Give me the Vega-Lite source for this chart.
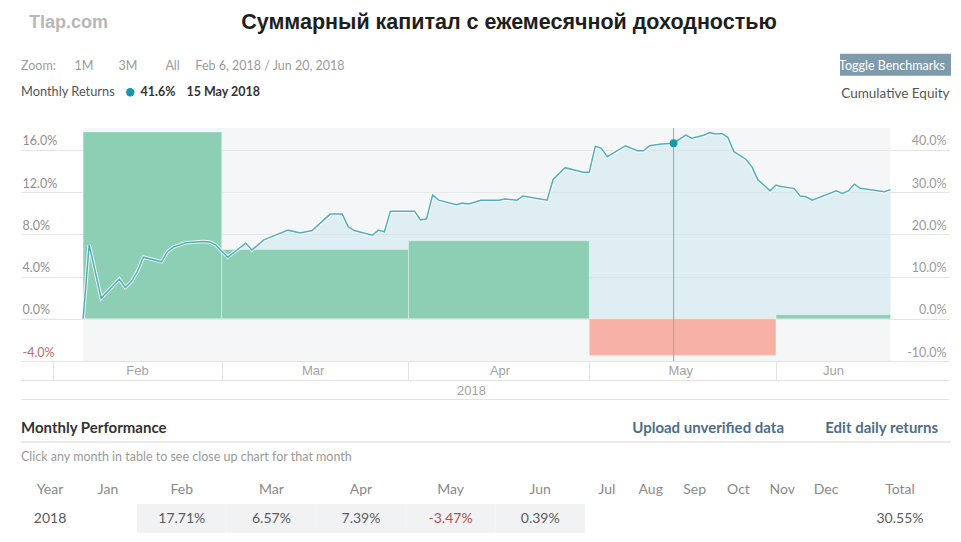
{
  "$schema": "https://vega.github.io/schema/vega-lite/v6.json",
  "padding": {"left": 20, "top": 0, "right": 5, "bottom": 0},
  "background": "#ffffff",
  "config": {"view": {"stroke": null}, "font": "Lato"},
  "bounds": "flush",
  "spacing": 0,
  "datasets": {
    "header": [
      {"kind": "brand", "side": "left", "line": "title", "text": "Tlap.com"},
      {"kind": "title", "side": "center", "line": "title", "text": "Суммарный капитал с ежемесячной доходностью"},
      {"kind": "zoom", "side": "left", "line": "zoom", "text": "Zoom:\u2002\u2002\u20021M\u2003\u2003\u20023M\u2003\u2003\u2003All\u2003\u2002Feb 6, 2018 / Jun 20, 2018"},
      {"kind": "button", "side": "right", "line": "zoom", "text": "Toggle Benchmarks"}
    ],
    "equity": [
      {"date": "2018-02-06", "eq": 0.000},
      {"date": "2018-02-07", "eq": 0.175},
      {"date": "2018-02-09", "eq": 0.049},
      {"date": "2018-02-12", "eq": 0.094},
      {"date": "2018-02-13", "eq": 0.074},
      {"date": "2018-02-14", "eq": 0.088},
      {"date": "2018-02-15", "eq": 0.112},
      {"date": "2018-02-16", "eq": 0.146},
      {"date": "2018-02-19", "eq": 0.135},
      {"date": "2018-02-20", "eq": 0.159},
      {"date": "2018-02-21", "eq": 0.170},
      {"date": "2018-02-22", "eq": 0.175},
      {"date": "2018-02-23", "eq": 0.180},
      {"date": "2018-02-26", "eq": 0.183},
      {"date": "2018-02-27", "eq": 0.182},
      {"date": "2018-02-28", "eq": 0.175},
      {"date": "2018-03-02", "eq": 0.146},
      {"date": "2018-03-05", "eq": 0.179},
      {"date": "2018-03-06", "eq": 0.163},
      {"date": "2018-03-08", "eq": 0.187},
      {"date": "2018-03-09", "eq": 0.193},
      {"date": "2018-03-12", "eq": 0.210},
      {"date": "2018-03-14", "eq": 0.203},
      {"date": "2018-03-16", "eq": 0.209},
      {"date": "2018-03-19", "eq": 0.248},
      {"date": "2018-03-21", "eq": 0.248},
      {"date": "2018-03-22", "eq": 0.218},
      {"date": "2018-03-23", "eq": 0.209},
      {"date": "2018-03-26", "eq": 0.198},
      {"date": "2018-03-27", "eq": 0.210},
      {"date": "2018-03-28", "eq": 0.206},
      {"date": "2018-03-29", "eq": 0.255},
      {"date": "2018-04-02", "eq": 0.255},
      {"date": "2018-04-03", "eq": 0.234},
      {"date": "2018-04-04", "eq": 0.237},
      {"date": "2018-04-05", "eq": 0.293},
      {"date": "2018-04-06", "eq": 0.281},
      {"date": "2018-04-09", "eq": 0.270},
      {"date": "2018-04-10", "eq": 0.274},
      {"date": "2018-04-11", "eq": 0.272},
      {"date": "2018-04-13", "eq": 0.281},
      {"date": "2018-04-16", "eq": 0.281},
      {"date": "2018-04-17", "eq": 0.284},
      {"date": "2018-04-19", "eq": 0.281},
      {"date": "2018-04-20", "eq": 0.291},
      {"date": "2018-04-24", "eq": 0.281},
      {"date": "2018-04-25", "eq": 0.330},
      {"date": "2018-04-27", "eq": 0.358},
      {"date": "2018-04-30", "eq": 0.347},
      {"date": "2018-05-01", "eq": 0.347},
      {"date": "2018-05-02", "eq": 0.409},
      {"date": "2018-05-03", "eq": 0.404},
      {"date": "2018-05-04", "eq": 0.384},
      {"date": "2018-05-07", "eq": 0.410},
      {"date": "2018-05-09", "eq": 0.398},
      {"date": "2018-05-10", "eq": 0.398},
      {"date": "2018-05-11", "eq": 0.410},
      {"date": "2018-05-13", "eq": 0.414},
      {"date": "2018-05-15", "eq": 0.416},
      {"date": "2018-05-17", "eq": 0.435},
      {"date": "2018-05-18", "eq": 0.428},
      {"date": "2018-05-20", "eq": 0.435},
      {"date": "2018-05-21", "eq": 0.441},
      {"date": "2018-05-22", "eq": 0.438},
      {"date": "2018-05-23", "eq": 0.439},
      {"date": "2018-05-24", "eq": 0.430},
      {"date": "2018-05-25", "eq": 0.396},
      {"date": "2018-05-27", "eq": 0.378},
      {"date": "2018-05-28", "eq": 0.360},
      {"date": "2018-05-29", "eq": 0.329},
      {"date": "2018-05-30", "eq": 0.317},
      {"date": "2018-05-31", "eq": 0.303},
      {"date": "2018-06-01", "eq": 0.317},
      {"date": "2018-06-02", "eq": 0.313},
      {"date": "2018-06-04", "eq": 0.309},
      {"date": "2018-06-05", "eq": 0.291},
      {"date": "2018-06-06", "eq": 0.289},
      {"date": "2018-06-07", "eq": 0.281},
      {"date": "2018-06-11", "eq": 0.303},
      {"date": "2018-06-12", "eq": 0.297},
      {"date": "2018-06-13", "eq": 0.303},
      {"date": "2018-06-14", "eq": 0.319},
      {"date": "2018-06-15", "eq": 0.309},
      {"date": "2018-06-19", "eq": 0.301},
      {"date": "2018-06-20", "eq": 0.306}
    ],
    "monthly": [
      {"month": "Feb", "start": "2018-02-06", "end": "2018-03-01", "ret": 0.1771},
      {"month": "Mar", "start": "2018-03-01", "end": "2018-04-01", "ret": 0.0657},
      {"month": "Apr", "start": "2018-04-01", "end": "2018-05-01", "ret": 0.0739},
      {"month": "May", "start": "2018-05-01", "end": "2018-06-01", "ret": -0.0347},
      {"month": "Jun", "start": "2018-06-01", "end": "2018-06-20", "ret": 0.0039}
    ],
    "highlight": [
      {"date": "2018-05-15", "eq": 0.416, "label": "41.6%"}
    ],
    "perf": [
      {"kind": "heading", "side": "left", "line": "head", "text": "Monthly Performance"},
      {"kind": "link", "side": "right", "line": "head", "text": "Upload unverified data\u2003\u2003\u2003\u2002Edit daily returns"},
      {"kind": "note", "side": "left", "line": "note", "text": "Click any month in table to see close up chart for that month"},
      {"kind": "rule", "side": "left", "line": "note", "text": ""}
    ],
    "table": [
      {"part": "a", "col": "Year", "row": "head", "text": "Year", "neg": false},
      {"part": "a", "col": "Jan", "row": "head", "text": "Jan", "neg": false},
      {"part": "b", "col": "Feb", "row": "head", "text": "Feb", "neg": false},
      {"part": "b", "col": "Mar", "row": "head", "text": "Mar", "neg": false},
      {"part": "b", "col": "Apr", "row": "head", "text": "Apr", "neg": false},
      {"part": "b", "col": "May", "row": "head", "text": "May", "neg": false},
      {"part": "b", "col": "Jun", "row": "head", "text": "Jun", "neg": false},
      {"part": "c", "col": "Jul", "row": "head", "text": "Jul", "neg": false},
      {"part": "c", "col": "Aug", "row": "head", "text": "Aug", "neg": false},
      {"part": "c", "col": "Sep", "row": "head", "text": "Sep", "neg": false},
      {"part": "c", "col": "Oct", "row": "head", "text": "Oct", "neg": false},
      {"part": "c", "col": "Nov", "row": "head", "text": "Nov", "neg": false},
      {"part": "c", "col": "Dec", "row": "head", "text": "Dec", "neg": false},
      {"part": "d", "col": "Total", "row": "head", "text": "Total", "neg": false},
      {"part": "a", "col": "Year", "row": "data", "text": "2018", "neg": false},
      {"part": "b", "col": "Feb", "row": "data", "text": "17.71%", "neg": false},
      {"part": "b", "col": "Mar", "row": "data", "text": "6.57%", "neg": false},
      {"part": "b", "col": "Apr", "row": "data", "text": "7.39%", "neg": false},
      {"part": "b", "col": "May", "row": "data", "text": "-3.47%", "neg": true},
      {"part": "b", "col": "Jun", "row": "data", "text": "0.39%", "neg": false},
      {"part": "d", "col": "Total", "row": "data", "text": "30.55%", "neg": false}
    ]
  },
  "vconcat": [
    {
      "width": 928,
      "height": 128,
      "data": {"name": "header"},
      "encoding": {
        "x": {"field": "side", "type": "nominal", "scale": {"type": "point", "domain": ["left", "center", "right"], "padding": 0}, "axis": null},
        "y": {"field": "line", "type": "nominal", "scale": {"type": "point", "domain": ["title", "zoom"], "padding": 1.141, "align": 0.2697}, "axis": null}
      },
      "layer": [
        {
          "transform": [{"filter": "datum.kind == 'brand'"}],
          "mark": {"type": "text", "align": "left", "baseline": "middle", "dx": 8, "font": "Liberation Sans", "fontSize": 18, "fontWeight": "bold", "color": "#b8b8b8"},
          "encoding": {"text": {"field": "text"}}
        },
        {
          "transform": [{"filter": "datum.kind == 'title'"}],
          "mark": {"type": "text", "align": "center", "baseline": "middle", "dx": 24, "font": "Liberation Sans", "fontSize": 21.5, "fontWeight": "bold", "color": "#1e1e1e"},
          "encoding": {"text": {"field": "text"}}
        },
        {
          "transform": [{"filter": "datum.kind == 'zoom'"}],
          "mark": {"type": "text", "align": "left", "baseline": "middle", "font": "Lato", "fontSize": 12.5, "color": "#9b9b9b"},
          "encoding": {"text": {"field": "text"}}
        },
        {
          "transform": [{"filter": "datum.kind == 'button'"}],
          "mark": {"type": "point", "shape": "M-10.9,-1.2H0.2V1H-10.9Z", "size": 400, "filled": true, "color": "#7f9bab", "opacity": 1}
        },
        {
          "transform": [{"filter": "datum.kind == 'button'"}],
          "mark": {"type": "text", "align": "right", "baseline": "middle", "dx": -4, "font": "Lato", "fontSize": 12.5, "color": "#ffffff"},
          "encoding": {"text": {"field": "text"}}
        }
      ]
    },
    {
      "width": 928,
      "height": 233,
      "resolve": {"scale": {"y": "independent"}, "axis": {"x": "independent", "y": "independent"}},
      "layer": [
        {
          "data": {"name": "equity"},
          "mark": {"type": "rect", "color": "#e8ebf0", "opacity": 0.45},
          "encoding": {
            "x": {
              "aggregate": "min", "field": "date", "type": "temporal",
              "scale": {"type": "utc", "domain": [{"year": 2018, "month": 1, "date": 26, "hours": 16, "minutes": 32, "utc": true}, {"year": 2018, "month": 6, "date": 29, "hours": 17, "utc": true}]},
              "axis": {
                "orient": "bottom",
                "values": [
                  {"year": 2018, "month": 2, "date": 1, "utc": true},
                  {"year": 2018, "month": 3, "date": 1, "utc": true},
                  {"year": 2018, "month": 4, "date": 1, "utc": true},
                  {"year": 2018, "month": 5, "date": 1, "utc": true},
                  {"year": 2018, "month": 6, "date": 1, "utc": true}
                ],
                "domain": true, "domainColor": "#e3e3e3", "domainWidth": 1,
                "ticks": true, "tickSize": 19, "tickColor": "#e3e3e3", "tickWidth": 1,
                "labels": true, "labelExpr": "utcFormat(datum.value, '%b')",
                "labelFont": "Liberation Sans", "labelFontSize": 13, "labelColor": "#a3a3a3",
                "labelPadding": -10, "labelBaseline": "middle", "labelAlign": "center",
                "labelOffset": {"condition": [{"test": "utcmonth(datum.value) == 1", "value": 84}, {"test": "utcmonth(datum.value) == 5", "value": 57}], "value": 91},
                "labelFlush": false, "labelOverlap": false, "labelBound": false,
                "grid": false, "title": null
              }
            },
            "x2": {"aggregate": "max", "field": "date"}
          }
        },
        {
          "data": {"name": "equity"},
          "mark": {"type": "area", "color": "#c5e4ee", "opacity": 0.45},
          "encoding": {
            "x": {
              "field": "date", "type": "temporal",
              "scale": {"type": "utc"},
              "axis": {
                "orient": "bottom", "offset": 19,
                "domain": true, "domainColor": "#e3e3e3", "domainWidth": 1,
                "ticks": false, "labels": false, "grid": false,
                "title": "2018", "titleFont": "Liberation Sans", "titleFontSize": 13, "titleFontWeight": "normal", "titleColor": "#a3a3a3",
                "titleX": 450, "titleY": 10, "titleAlign": "center", "titleBaseline": "middle"
              }
            },
            "y": {"field": "eq", "type": "quantitative", "scale": {"domain": [-0.1, 0.452], "nice": false, "zero": false}, "axis": null},
            "y2": {"datum": 0}
          }
        },
        {
          "data": {"name": "monthly"},
          "mark": {"type": "rect", "stroke": "#ffffff", "strokeWidth": 1, "strokeOpacity": 0.35},
          "encoding": {
            "x": {"field": "start", "type": "temporal", "scale": {"type": "utc"}, "axis": null},
            "x2": {"field": "end"},
            "y": {
              "field": "ret", "type": "quantitative",
              "scale": {"domain": [-0.04, 0.1808], "nice": false, "zero": false},
              "axis": {
                "orient": "left",
                "values": [-0.04, 0, 0.04, 0.08, 0.12, 0.16],
                "labelExpr": "(datum.value < 0 ? '-' : '') + format(abs(datum.value), '.1%')",
                "domain": false, "ticks": false, "tickSize": 0,
                "labelAlign": "left", "labelBaseline": "bottom", "labelPadding": -1, "labelOffset": -2,
                "labelFont": "Lato", "labelFontSize": 12.5,
                "labelColor": {"condition": {"test": "datum.value < 0", "value": "#c06a5e"}, "value": "#8f8f8f"},
                "labelFlush": false, "labelOverlap": false, "labelBound": false,
                "grid": true, "gridColor": "#e4e4e4", "gridWidth": 1,
                "title": null
              }
            },
            "y2": {"datum": 0},
            "color": {"condition": {"test": "datum.ret < 0", "value": "#f7b2a5"}, "value": "#8ccfb5"}
          }
        },
        {
          "data": {"name": "equity"},
          "mark": {"type": "line", "color": "#ffffff", "strokeWidth": 3.5, "opacity": 0.8},
          "encoding": {
            "x": {
              "field": "date", "type": "temporal", "scale": {"type": "utc"},
              "axis": {
                "orient": "bottom", "offset": 38,
                "domain": true, "domainColor": "#e3e3e3", "domainWidth": 1,
                "ticks": false, "labels": false, "grid": false, "title": null
              }
            },
            "y": {"field": "eq", "type": "quantitative", "scale": {"domain": [-0.1, 0.452], "nice": false, "zero": false}, "axis": null}
          }
        },
        {
          "data": {"name": "equity"},
          "mark": {"type": "line", "color": "#53aebb", "strokeWidth": 1.5},
          "encoding": {
            "x": {"field": "date", "type": "temporal", "scale": {"type": "utc"}, "axis": null},
            "y": {
              "field": "eq", "type": "quantitative",
              "scale": {"domain": [-0.1, 0.452], "nice": false, "zero": false},
              "axis": {
                "orient": "right",
                "values": [-0.1, 0, 0.1, 0.2, 0.3, 0.4],
                "labelExpr": "(datum.value < 0 ? '-' : '') + format(abs(datum.value), '.1%')",
                "domain": false, "ticks": false, "tickSize": 0,
                "labelAlign": "right", "labelBaseline": "bottom", "labelPadding": -3, "labelOffset": -2,
                "labelFont": "Lato", "labelFontSize": 12.5, "labelColor": "#9a9a9a",
                "labelFlush": false, "labelOverlap": false, "labelBound": false,
                "grid": false,
                "title": "Cumulative Equity", "titleAngle": 0, "titleAlign": "right", "titleBaseline": "middle",
                "titleX": 0, "titleY": -35,
                "titleFont": "Lato", "titleFontSize": 13.5, "titleFontWeight": "normal", "titleColor": "#555555"
              }
            }
          }
        },
        {
          "data": {"name": "highlight"},
          "mark": {"type": "rule", "color": "#6db9c8", "strokeWidth": 1},
          "encoding": {
            "x": {"field": "date", "type": "temporal", "scale": {"type": "utc"}, "axis": null}
          }
        },
        {
          "data": {"name": "highlight"},
          "mark": {"type": "point", "filled": true, "size": 60, "opacity": 1},
          "encoding": {
            "x": {"field": "date", "type": "temporal", "scale": {"type": "utc"}, "axis": null},
            "y": {"field": "eq", "type": "quantitative", "scale": {"domain": [-0.1, 0.452], "nice": false, "zero": false}, "axis": null},
            "color": {
              "field": "label", "type": "nominal",
              "scale": {"range": ["#1697ab"]},
              "legend": {
                "title": "Monthly Returns",
                "orient": "none", "legendX": 0, "legendY": 86,
                "direction": "horizontal",
                "titleOrient": "left", "titlePadding": 9,
                "titleFont": "Lato", "titleFontSize": 12.8, "titleFontWeight": "normal", "titleColor": "#555555",
                "labelFont": "Lato", "labelFontSize": 12.5, "labelFontWeight": "bold", "labelColor": "#333333",
                "labelExpr": "datum.label + '\u2003\u2009' + '15 May 2018'",
                "symbolType": "circle", "symbolSize": 70, "symbolStrokeWidth": 0,
                "labelOffset": 4, "padding": 0
              }
            }
          }
        }
      ]
    },
    {
      "width": 930,
      "height": 110,
      "data": {"name": "perf"},
      "layer": [
        {
          "transform": [{"filter": "datum.kind == 'heading'"}],
          "mark": {"type": "text", "align": "left", "baseline": "middle", "font": "Lato", "fontSize": 15, "fontWeight": "bold", "color": "#333333"},
          "encoding": {
            "x": {"field": "side", "type": "nominal", "scale": {"type": "point", "domain": ["left", "right"], "padding": 0}, "axis": null},
            "y": {"field": "line", "type": "nominal", "scale": {"type": "band", "domain": ["head", "note"], "paddingInner": 0, "paddingOuter": 0.8966, "align": 1}, "axis": null, "bandPosition": 0.5},
            "text": {"field": "text"}
          }
        },
        {
          "transform": [{"filter": "datum.kind == 'link'"}],
          "mark": {"type": "text", "align": "right", "baseline": "middle", "dx": -13, "font": "Lato", "fontSize": 15, "fontWeight": "bold", "color": "#4d6e8a"},
          "encoding": {
            "x": {"field": "side", "type": "nominal", "scale": {"type": "point", "domain": ["left", "right"], "padding": 0}, "axis": null},
            "y": {"field": "line", "type": "nominal", "scale": {"type": "band", "domain": ["head", "note"], "paddingInner": 0, "paddingOuter": 0.8966, "align": 1}, "axis": null, "bandPosition": 0.5},
            "text": {"field": "text"}
          }
        },
        {
          "transform": [{"filter": "datum.kind == 'note'"}],
          "mark": {"type": "text", "align": "left", "baseline": "middle", "font": "Lato", "fontSize": 12.5, "color": "#9a9a9a"},
          "encoding": {
            "x": {"field": "side", "type": "nominal", "scale": {"type": "point", "domain": ["left", "right"], "padding": 0}, "axis": null},
            "y": {"field": "line", "type": "nominal", "scale": {"type": "band", "domain": ["head", "note"], "paddingInner": 0, "paddingOuter": 0.8966, "align": 1}, "axis": null, "bandPosition": 0.5},
            "text": {"field": "text"}
          }
        },
        {
          "transform": [{"filter": "datum.kind == 'rule'"}],
          "mark": {"type": "rule", "color": "#ebebeb", "strokeWidth": 2},
          "encoding": {
            "y": {"field": "line", "type": "nominal", "scale": {"type": "band", "domain": ["head", "note"], "paddingInner": 0, "paddingOuter": 0.8966, "align": 1}, "axis": null, "bandPosition": 0}
          }
        }
      ]
    },
    {
      "spacing": 0,
      "bounds": "flush",
      "hconcat": [
        {
          "width": 116,
          "height": 62,
          "data": {"name": "table"},
          "transform": [{"filter": "datum.part == 'a'"}],
          "mark": {"type": "text", "align": "center", "baseline": "middle", "font": "Lato", "fontSize": 14},
          "encoding": {
            "x": {"field": "col", "type": "nominal", "scale": {"type": "band", "domain": ["Year", "Jan"], "paddingInner": 0, "paddingOuter": 0}, "axis": null, "bandPosition": 0.5},
            "y": {"field": "row", "type": "nominal", "scale": {"type": "band", "domain": ["head", "data"], "paddingInner": 0, "paddingOuter": 0.069, "align": 1}, "axis": null, "bandPosition": 0.5},
            "text": {"field": "text"},
            "color": {"condition": [{"test": "datum.row == 'head'", "value": "#8a8a8a"}, {"test": "datum.neg", "value": "#b4514d"}], "value": "#5c5c5c"}
          }
        },
        {
          "width": 448,
          "height": 62,
          "data": {"name": "table"},
          "transform": [{"filter": "datum.part == 'b'"}],
          "layer": [
            {
              "transform": [{"filter": "datum.row == 'data'"}],
              "mark": {"type": "rect", "color": "#f0f2f4"},
              "encoding": {
                "x": {"field": "col", "type": "nominal", "scale": {"type": "band", "domain": ["Feb", "Mar", "Apr", "May", "Jun"], "paddingInner": 0, "paddingOuter": 0}, "axis": null},
                "y": {"field": "row", "type": "nominal", "scale": {"type": "band", "domain": ["head", "data"], "paddingInner": 0, "paddingOuter": 0.069, "align": 1}, "axis": null}
              }
            },
            {
              "mark": {"type": "text", "align": "center", "baseline": "middle", "font": "Lato", "fontSize": 14},
              "encoding": {
                "x": {"field": "col", "type": "nominal", "scale": {"type": "band", "domain": ["Feb", "Mar", "Apr", "May", "Jun"], "paddingInner": 0, "paddingOuter": 0}, "axis": null, "bandPosition": 0.5},
                "y": {"field": "row", "type": "nominal", "scale": {"type": "band", "domain": ["head", "data"], "paddingInner": 0, "paddingOuter": 0.069, "align": 1}, "axis": null, "bandPosition": 0.5},
                "text": {"field": "text"},
                "color": {"condition": [{"test": "datum.row == 'head'", "value": "#8a8a8a"}, {"test": "datum.neg", "value": "#b4514d"}], "value": "#5c5c5c"}
              }
            }
          ]
        },
        {
          "width": 263,
          "height": 62,
          "data": {"name": "table"},
          "transform": [{"filter": "datum.part == 'c'"}],
          "mark": {"type": "text", "align": "center", "baseline": "middle", "font": "Lato", "fontSize": 14},
          "encoding": {
            "x": {"field": "col", "type": "nominal", "scale": {"type": "band", "domain": ["Jul", "Aug", "Sep", "Oct", "Nov", "Dec"], "paddingInner": 0, "paddingOuter": 0}, "axis": null, "bandPosition": 0.5},
            "y": {"field": "row", "type": "nominal", "scale": {"type": "band", "domain": ["head", "data"], "paddingInner": 0, "paddingOuter": 0.069, "align": 1}, "axis": null, "bandPosition": 0.5},
            "text": {"field": "text"},
            "color": {"condition": [{"test": "datum.row == 'head'", "value": "#8a8a8a"}, {"test": "datum.neg", "value": "#b4514d"}], "value": "#5c5c5c"}
          }
        },
        {
          "width": 104,
          "height": 62,
          "data": {"name": "table"},
          "transform": [{"filter": "datum.part == 'd'"}],
          "mark": {"type": "text", "align": "center", "baseline": "middle", "font": "Lato", "fontSize": 14},
          "encoding": {
            "x": {"field": "col", "type": "nominal", "scale": {"type": "band", "domain": ["Total"], "paddingInner": 0, "paddingOuter": 0}, "axis": null, "bandPosition": 0.5},
            "y": {"field": "row", "type": "nominal", "scale": {"type": "band", "domain": ["head", "data"], "paddingInner": 0, "paddingOuter": 0.069, "align": 1}, "axis": null, "bandPosition": 0.5},
            "text": {"field": "text"},
            "color": {"condition": [{"test": "datum.row == 'head'", "value": "#8a8a8a"}, {"test": "datum.neg", "value": "#b4514d"}], "value": "#5c5c5c"}
          }
        }
      ]
    }
  ]
}
